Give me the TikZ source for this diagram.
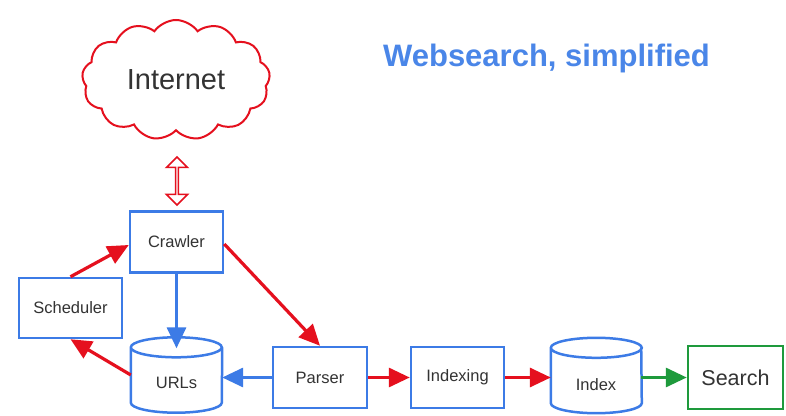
\documentclass[tikz,border=0pt]{standalone}
\usepackage{fontspec}
\setmainfont{Liberation Sans}
\usetikzlibrary{arrows.meta,shapes.symbols,shapes.arrows,calc}
\definecolor{bblue}{HTML}{3C7BE6}
\definecolor{tblue}{HTML}{4A86E8}
\definecolor{rred}{HTML}{E5101E}
\definecolor{ggreen}{HTML}{1E9A3C}
\definecolor{txt}{HTML}{333333}
\tikzset{
  box/.style={draw=bblue, line width=2.5pt, minimum width=93pt, minimum height=61pt, text=txt, font=\fontsize{16.5}{18}\selectfont, inner sep=0pt},
  cylnode/.style={minimum width=91pt, minimum height=75pt, text=txt, font=\fontsize{16.5}{18}\selectfont, inner sep=0pt},
  cylline/.style={draw=bblue, line width=2.5pt},
  conn/.style={line width=3.2pt, -{Triangle[length=21pt,width=19pt]}, shorten >=0pt},
  redc/.style={conn, draw=rred, color=rred},
  bluec/.style={conn, draw=bblue, color=bblue},
  greenc/.style={conn, draw=ggreen, color=ggreen}
}
\newcommand\drawcyl[1]{%
  \draw[cylline] ([yshift=-10pt]#1.north west) arc[start angle=180,end angle=360,x radius=45.5pt,y radius=10pt]
    arc[start angle=0,end angle=180,x radius=45.5pt,y radius=10pt]
    -- ([yshift=10pt]#1.south west) arc[start angle=180,end angle=360,x radius=45.5pt,y radius=10pt]
    -- ([yshift=-10pt]#1.north east);}
\begin{document}
\begin{tikzpicture}[x=1pt,y=1pt]
\fill[white] (0,0) rectangle (786,415);
\useasboundingbox (0,0) rectangle (786,415);
% title
\node[text=tblue, font=\bfseries\fontsize{31}{34}\selectfont] (title) at (546.5,357) {Websearch, simplified};
% cloud
\node[cloud, cloud puffs=13, cloud puff arc=110, aspect=1.7, draw=rred, line width=2pt,
      minimum width=188pt, minimum height=120pt, text=txt, font=\fontsize{29}{32}\selectfont, inner sep=0pt] (net) at (176,335) {Internet};
% boxes
\node[box] (crawler) at (176.5,173) {Crawler};
\node[box, minimum width=103pt, minimum height=60pt] (sched) at (70.5,107) {Scheduler};
\node[cylnode] (urls) at (176.5,40) {};
\node[text=txt, font=\fontsize{16.5}{18}\selectfont] (urlst) at (176.5,32) {URLs};
\node[box, minimum width=94pt] (parser) at (320,37.5) {Parser};
\node[box, minimum width=93pt] (indexing) at (457.5,37.5) {Indexing};
\node[cylnode, minimum width=90pt] (index) at (596,39.5) {};
\node[text=txt, font=\fontsize{16.5}{18}\selectfont] (indext) at (596,30) {Index};
\node[box, draw=ggreen, minimum width=95pt, minimum height=63pt, font=\fontsize{21.5}{24}\selectfont] (search) at (735.5,37.5) {Search};
\drawcyl{urls}
\drawcyl{index}
% double arrow
\node[double arrow, rotate=90, draw=rred, fill=white, line width=1.5pt, minimum height=48pt,
      minimum width=21pt, inner sep=0pt, double arrow head extend=5.5pt, double arrow head indent=0pt] (dbl) at (177,234) {};
% connectors
\draw[redc] (sched.north) -- ([yshift=-3pt]crawler.west);
\draw[bluec] (crawler.south) -- ([yshift=-11pt]urls.north);
\draw[redc] (urls.west) -- (sched.south);
\draw[redc] ([yshift=-2pt]crawler.east) -- (parser.north);
\draw[bluec] (parser.west) -- (urls.east |- parser.west);
\draw[redc] (parser) -- (indexing);
\draw[redc] (indexing) -- (index.west |- indexing.east);
\draw[greenc] (index.east |- search.west) -- (search);
\end{tikzpicture}
\end{document}
